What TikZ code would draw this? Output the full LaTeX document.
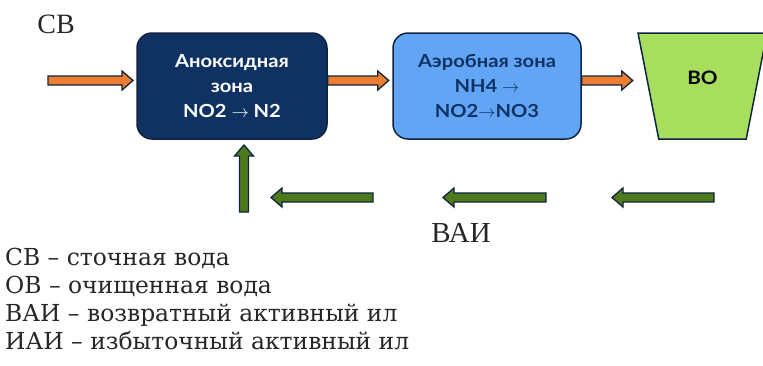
\documentclass[tikz,border=0pt]{standalone}
\usepackage{fontspec}
\setmainfont{Liberation Serif}
\newfontfamily\zonefont[FakeStretch=1.12]{Lato}
\newfontfamily\legendfont{DejaVu Serif}
\usetikzlibrary{shapes.geometric}
\definecolor{navy}{HTML}{0F3263}
\definecolor{skyblue}{HTML}{62A5F5}
\definecolor{settlergreen}{HTML}{A8DE5E}
\definecolor{leafgreen}{HTML}{4E7A1B}
\definecolor{flow}{HTML}{ED7D31}
\definecolor{edge}{HTML}{0F2440}
\tikzset{
	pics/flowarrow/.style 2 args={code={
		\draw [arrowline, fill=#2] (0,-4.5) -- ({#1-11},-4.5) -- ({#1-11},-9.5) -- (#1,0) -- ({#1-11},9.5) -- ({#1-11},4.5) -- (0,4.5) -- cycle;
	}}
}
\begin{document}
\begin{tikzpicture}[x=1pt, y=-1pt,
		arrowline/.style={draw=edge, line width=1.3pt, line join=miter},
		zone/.style={draw=edge, line width=1.5pt, rounded corners=15pt, minimum height=106pt, align=center,
			font=\zonefont\bfseries\fontsize{18}{25}\selectfont},
		settler/.style={trapezium, trapezium stretches=true, shape border rotate=180, trapezium angle=76.7,
			minimum width=129pt, minimum height=106pt, draw=edge, line width=1.5pt, fill=settlergreen},
		bigtag/.style={font=\fontsize{28}{30}\selectfont, text=black!85, inner sep=0pt}]
	\useasboundingbox (0,0) rectangle (763,365);
	\node [zone, minimum width=190pt, fill=navy, text=white] (anox) at (232,86) {Аноксидная\\зона\\NO2 $\rightarrow$ N2};
	\node [zone, minimum width=188pt, fill=skyblue, text=navy] (aero) at (487,86) {Аэробная зона\\NH4 $\rightarrow$\\NO2$\rightarrow$NO3};
	\node [settler] (vo) at (702.5,86) {};
	\node [font=\zonefont\bfseries\fontsize{18.5}{20}\selectfont] (votag) at ([yshift=8pt]vo.center) {ВО};
	\coordinate (inlet) at (48,80.5);
	\coordinate (ret) at (244,212);
	\pic at (inlet) {flowarrow={85}{flow}};
	\pic at ([yshift=5.5pt]anox.east) {flowarrow={61}{flow}};
	\pic at ([yshift=5.5pt]aero.east) {flowarrow={51}{flow}};
	\foreach \x/\l in {373/102, 546/103, 714/102} {
		\pic [rotate=180] at (\x,197.5) {flowarrow={\l}{leafgreen}};
	}
	\pic [rotate=90] at (ret) {flowarrow={67}{leafgreen}};
	\node [bigtag] (sv) at (56,24) {СВ};
	\node [bigtag, font=\fontsize{29}{30}\selectfont] (vai) at (461,233) {ВАИ};
	\node [anchor=north west, align=left, inner sep=0pt, text=black!85,
		font=\legendfont\fontsize{23.4}{28}\selectfont] (legend) at (5,248) {СВ – сточная вода\\ОВ – очищенная вода\\ВАИ – возвратный активный ил\\ИАИ – избыточный активный ил};
\end{tikzpicture}
\end{document}
